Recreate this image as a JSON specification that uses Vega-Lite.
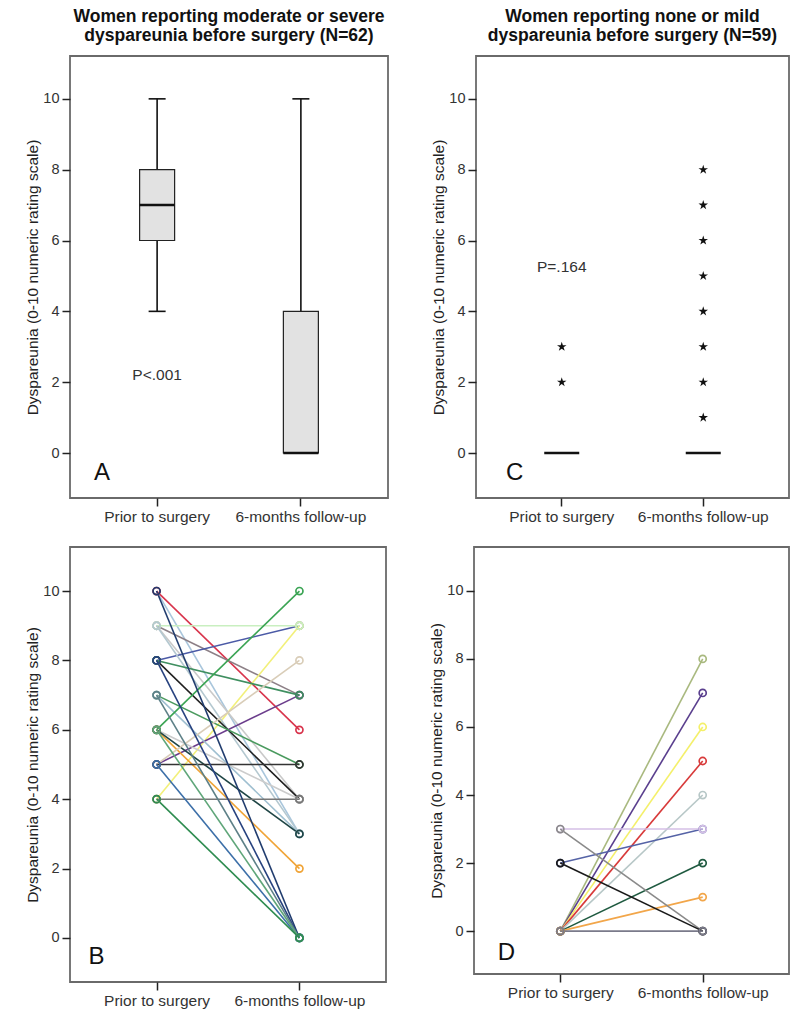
{
  "$schema": "https://vega.github.io/schema/vega-lite/v6.json",
  "padding": {"left": 24, "top": 6, "right": 5, "bottom": 4},
  "background": "white",
  "datasets": {
    "boxA": [
      {"time": "Prior to surgery", "min": 4, "q1": 6, "median": 7, "q3": 8, "max": 10},
      {"time": "6-months follow-up", "min": 0, "q1": 0, "median": 0, "q3": 4, "max": 10}
    ],
    "boxC": [
      {"time": "Priot to surgery", "median": 0},
      {"time": "6-months follow-up", "median": 0}
    ],
    "starsC": [
      {"time": "Priot to surgery", "v": 2},
      {"time": "Priot to surgery", "v": 3},
      {"time": "6-months follow-up", "v": 1},
      {"time": "6-months follow-up", "v": 2},
      {"time": "6-months follow-up", "v": 3},
      {"time": "6-months follow-up", "v": 4},
      {"time": "6-months follow-up", "v": 5},
      {"time": "6-months follow-up", "v": 6},
      {"time": "6-months follow-up", "v": 7},
      {"time": "6-months follow-up", "v": 8}
    ],
    "linesB": [
      {"id": "p01", "time": "Prior to surgery", "v": 10}, {"id": "p01", "time": "6-months follow-up", "v": 3},
      {"id": "p02", "time": "Prior to surgery", "v": 10}, {"id": "p02", "time": "6-months follow-up", "v": 6},
      {"id": "p03", "time": "Prior to surgery", "v": 9}, {"id": "p03", "time": "6-months follow-up", "v": 7},
      {"id": "p04", "time": "Prior to surgery", "v": 9}, {"id": "p04", "time": "6-months follow-up", "v": 4},
      {"id": "p05", "time": "Prior to surgery", "v": 8}, {"id": "p05", "time": "6-months follow-up", "v": 9},
      {"id": "p06", "time": "Prior to surgery", "v": 4}, {"id": "p06", "time": "6-months follow-up", "v": 9},
      {"id": "p07", "time": "Prior to surgery", "v": 9}, {"id": "p07", "time": "6-months follow-up", "v": 9},
      {"id": "p08", "time": "Prior to surgery", "v": 9}, {"id": "p08", "time": "6-months follow-up", "v": 3},
      {"id": "p09", "time": "Prior to surgery", "v": 8}, {"id": "p09", "time": "6-months follow-up", "v": 4},
      {"id": "p10", "time": "Prior to surgery", "v": 5}, {"id": "p10", "time": "6-months follow-up", "v": 7},
      {"id": "p11", "time": "Prior to surgery", "v": 8}, {"id": "p11", "time": "6-months follow-up", "v": 7},
      {"id": "p12", "time": "Prior to surgery", "v": 7}, {"id": "p12", "time": "6-months follow-up", "v": 5},
      {"id": "p13", "time": "Prior to surgery", "v": 7}, {"id": "p13", "time": "6-months follow-up", "v": 3},
      {"id": "p14", "time": "Prior to surgery", "v": 6}, {"id": "p14", "time": "6-months follow-up", "v": 10},
      {"id": "p15", "time": "Prior to surgery", "v": 6}, {"id": "p15", "time": "6-months follow-up", "v": 4},
      {"id": "p16", "time": "Prior to surgery", "v": 6}, {"id": "p16", "time": "6-months follow-up", "v": 2},
      {"id": "p17", "time": "Prior to surgery", "v": 6}, {"id": "p17", "time": "6-months follow-up", "v": 3},
      {"id": "p18", "time": "Prior to surgery", "v": 5}, {"id": "p18", "time": "6-months follow-up", "v": 8},
      {"id": "p19", "time": "Prior to surgery", "v": 5}, {"id": "p19", "time": "6-months follow-up", "v": 5},
      {"id": "p20", "time": "Prior to surgery", "v": 4}, {"id": "p20", "time": "6-months follow-up", "v": 4},
      {"id": "p21", "time": "Prior to surgery", "v": 10}, {"id": "p21", "time": "6-months follow-up", "v": 0},
      {"id": "p22", "time": "Prior to surgery", "v": 8}, {"id": "p22", "time": "6-months follow-up", "v": 0},
      {"id": "p23", "time": "Prior to surgery", "v": 7}, {"id": "p23", "time": "6-months follow-up", "v": 0},
      {"id": "p24", "time": "Prior to surgery", "v": 5}, {"id": "p24", "time": "6-months follow-up", "v": 0},
      {"id": "p25", "time": "Prior to surgery", "v": 6}, {"id": "p25", "time": "6-months follow-up", "v": 0},
      {"id": "p26", "time": "Prior to surgery", "v": 4}, {"id": "p26", "time": "6-months follow-up", "v": 0}
    ],
    "linesD": [
      {"id": "d01", "time": "Prior to surgery", "v": 0}, {"id": "d01", "time": "6-months follow-up", "v": 8},
      {"id": "d02", "time": "Prior to surgery", "v": 0}, {"id": "d02", "time": "6-months follow-up", "v": 7},
      {"id": "d03", "time": "Prior to surgery", "v": 0}, {"id": "d03", "time": "6-months follow-up", "v": 6},
      {"id": "d04", "time": "Prior to surgery", "v": 0}, {"id": "d04", "time": "6-months follow-up", "v": 5},
      {"id": "d05", "time": "Prior to surgery", "v": 0}, {"id": "d05", "time": "6-months follow-up", "v": 4},
      {"id": "d06", "time": "Prior to surgery", "v": 0}, {"id": "d06", "time": "6-months follow-up", "v": 2},
      {"id": "d07", "time": "Prior to surgery", "v": 0}, {"id": "d07", "time": "6-months follow-up", "v": 1},
      {"id": "d08", "time": "Prior to surgery", "v": 2}, {"id": "d08", "time": "6-months follow-up", "v": 3},
      {"id": "d09", "time": "Prior to surgery", "v": 3}, {"id": "d09", "time": "6-months follow-up", "v": 3},
      {"id": "d10", "time": "Prior to surgery", "v": 3}, {"id": "d10", "time": "6-months follow-up", "v": 0},
      {"id": "d11", "time": "Prior to surgery", "v": 2}, {"id": "d11", "time": "6-months follow-up", "v": 0},
      {"id": "d12", "time": "Prior to surgery", "v": 0}, {"id": "d12", "time": "6-months follow-up", "v": 0}
    ]
  },
  "spacing": 20,
  "vconcat": [
    {
      "spacing": 41,
      "hconcat": [
        {
          "title": {"text": ["Women reporting moderate or severe", "dyspareunia before surgery (N=62)"]},
          "width": 318,
          "height": 442,
          "data": {"name": "boxA"},
          "encoding": {
            "x": {"field": "time", "type": "nominal", "scale": {"type": "band", "domain": ["Prior to surgery", "6-months follow-up"], "paddingInner": 0, "paddingOuter": 0.106}, "axis": {"title": null, "labelAngle": 0, "labelOverlap": false}}
          },
          "layer": [
            {"mark": {"type": "rule", "color": "#111", "strokeWidth": 1.6},
             "encoding": {"y": {"field": "min", "type": "quantitative", "title": "Dyspareunia (0-10 numeric rating scale)", "scale": {"domain": [-1.27, 11.21], "nice": false, "zero": false}, "axis": {"values": [0, 2, 4, 6, 8, 10]}}, "y2": {"field": "q1"}}},
            {"mark": {"type": "rule", "color": "#111", "strokeWidth": 1.6},
             "encoding": {"y": {"field": "q3", "type": "quantitative", "title": "Dyspareunia (0-10 numeric rating scale)"}, "y2": {"field": "max"}}},
            {"mark": {"type": "bar", "size": 35, "fill": "#e2e2e2", "stroke": "#222", "strokeWidth": 1.2, "opacity": 1},
             "encoding": {"y": {"field": "q1", "type": "quantitative", "title": "Dyspareunia (0-10 numeric rating scale)"}, "y2": {"field": "q3"}}},
            {"mark": {"type": "tick", "size": 17, "thickness": 1.6, "color": "#111", "opacity": 1},
             "encoding": {"y": {"field": "min", "type": "quantitative", "title": "Dyspareunia (0-10 numeric rating scale)"}}},
            {"mark": {"type": "tick", "size": 17, "thickness": 1.6, "color": "#111", "opacity": 1},
             "encoding": {"y": {"field": "max", "type": "quantitative", "title": "Dyspareunia (0-10 numeric rating scale)"}}},
            {"mark": {"type": "tick", "size": 35, "thickness": 2.5, "color": "#111", "opacity": 1},
             "encoding": {"y": {"field": "median", "type": "quantitative", "title": "Dyspareunia (0-10 numeric rating scale)"}}},
            {"data": {"values": [{"time": "Prior to surgery", "y": 2.2, "label": "P<.001"}]},
             "mark": {"type": "text", "fontSize": 15.5, "color": "#333"},
             "encoding": {"y": {"field": "y", "type": "quantitative", "title": "Dyspareunia (0-10 numeric rating scale)"}, "text": {"field": "label"}}},
            {"data": {"values": [{"time": "Prior to surgery", "y": -0.55, "label": "A"}]},
             "mark": {"type": "text", "fontSize": 24, "color": "#111", "dx": -55},
             "encoding": {"y": {"field": "y", "type": "quantitative", "title": "Dyspareunia (0-10 numeric rating scale)"}, "text": {"field": "label"}}}
          ]
        },
        {
          "title": {"text": ["Women reporting none or mild", "dyspareunia before surgery (N=59)"]},
          "width": 313,
          "height": 442,
          "data": {"name": "boxC"},
          "encoding": {
            "x": {"field": "time", "type": "nominal", "scale": {"type": "band", "domain": ["Priot to surgery", "6-months follow-up"], "paddingInner": 0, "paddingOuter": 0.106}, "axis": {"title": null, "labelAngle": 0, "labelOverlap": false}}
          },
          "layer": [
            {"mark": {"type": "tick", "size": 35, "thickness": 2.5, "color": "#111", "opacity": 1},
             "encoding": {"y": {"field": "median", "type": "quantitative", "title": "Dyspareunia (0-10 numeric rating scale)", "scale": {"domain": [-1.27, 11.21], "nice": false, "zero": false}, "axis": {"values": [0, 2, 4, 6, 8, 10]}}}},
            {"data": {"name": "starsC"},
             "mark": {"type": "point", "shape": "M0,-1L0.2245,-0.309L0.951,-0.309L0.363,0.118L0.588,0.809L0,0.382L-0.588,0.809L-0.363,0.118L-0.951,-0.309L-0.2245,-0.309Z", "size": 100, "filled": true, "color": "#111", "opacity": 1},
             "encoding": {"y": {"field": "v", "type": "quantitative", "title": "Dyspareunia (0-10 numeric rating scale)"}}},
            {"data": {"values": [{"time": "Priot to surgery", "y": 5.25, "label": "P=.164"}]},
             "mark": {"type": "text", "fontSize": 15.5, "color": "#333"},
             "encoding": {"y": {"field": "y", "type": "quantitative", "title": "Dyspareunia (0-10 numeric rating scale)"}, "text": {"field": "label"}}},
            {"data": {"values": [{"time": "Priot to surgery", "y": -0.55, "label": "C"}]},
             "mark": {"type": "text", "fontSize": 24, "color": "#111", "dx": -47},
             "encoding": {"y": {"field": "y", "type": "quantitative", "title": "Dyspareunia (0-10 numeric rating scale)"}, "text": {"field": "label"}}}
          ]
        }
      ]
    },
    {
      "spacing": 41,
      "resolve": {"scale": {"color": "independent"}},
      "hconcat": [
        {
          "width": 316,
          "height": 435,
          "data": {"name": "linesB"},
          "encoding": {
            "x": {"field": "time", "type": "nominal", "scale": {"type": "point", "domain": ["Prior to surgery", "6-months follow-up"], "padding": 0.606}, "axis": {"title": null, "labelAngle": 0, "labelOverlap": false}},
            "y": {"field": "v", "type": "quantitative", "title": "Dyspareunia (0-10 numeric rating scale)", "scale": {"domain": [-1.27, 11.27], "nice": false, "zero": false}, "axis": {"values": [0, 2, 4, 6, 8, 10]}},
            "color": {"field": "id", "type": "nominal", "legend": null, "scale": {
              "domain": ["p01","p02","p03","p04","p05","p06","p07","p08","p09","p10","p11","p12","p13","p14","p15","p16","p17","p18","p19","p20","p21","p22","p23","p24","p25","p26"],
              "range": ["#a9c6dc","#d8344c","#8c7f86","#c9c9c9","#4b5aa6","#f2f07a","#c9efc0","#b4c8d0","#1f1f1f","#6b3d8c","#3f8f60","#4a9a5e","#9fbfd0","#3ba454","#cccccc","#f0a437","#1f4545","#d9cdb8","#333333","#777777","#203c6e","#27427f","#5d8087","#3c6fa8","#5fa679","#2e8c50"]}}
          },
          "layer": [
            {"mark": {"type": "line", "strokeWidth": 1.6}, "encoding": {"detail": {"field": "id"}}},
            {"mark": {"type": "point", "filled": false, "size": 50, "strokeWidth": 1.7, "opacity": 1}},
            {"data": {"values": [{"time": "Prior to surgery", "v": -0.55, "label": "B"}]},
             "mark": {"type": "text", "fontSize": 24, "color": "#111", "dx": -60},
             "encoding": {"text": {"field": "label"}, "color": {"value": "#111"}}}
          ]
        },
        {
          "width": 315,
          "height": 427,
          "data": {"name": "linesD"},
          "encoding": {
            "x": {"field": "time", "type": "nominal", "scale": {"type": "point", "domain": ["Prior to surgery", "6-months follow-up"], "padding": 0.606}, "axis": {"title": null, "labelAngle": 0, "labelOverlap": false}},
            "y": {"field": "v", "type": "quantitative", "title": "Dyspareunia (0-10 numeric rating scale)", "scale": {"domain": [-1.26, 11.29], "nice": false, "zero": false}, "axis": {"values": [0, 2, 4, 6, 8, 10]}},
            "color": {"field": "id", "type": "nominal", "legend": null, "scale": {
              "domain": ["d01","d02","d03","d04","d05","d06","d07","d08","d09","d10","d11","d12"],
              "range": ["#a9b97f","#5a3f8e","#f4f06a","#d83a3a","#b7c7c7","#1f5a40","#f2a64a","#5563a6","#d5bfe6","#8a8a8a","#1a1a1a","#7a7a8a"]}}
          },
          "layer": [
            {"mark": {"type": "line", "strokeWidth": 1.6}, "encoding": {"detail": {"field": "id"}}},
            {"mark": {"type": "point", "filled": false, "size": 50, "strokeWidth": 1.7, "opacity": 1}},
            {"data": {"values": [{"time": "Prior to surgery", "v": -0.65, "label": "D"}]},
             "mark": {"type": "text", "fontSize": 24, "color": "#111", "dx": -54},
             "encoding": {"text": {"field": "label"}, "color": {"value": "#111"}}}
          ]
        }
      ]
    }
  ],
  "config": {
    "font": "Liberation Sans",
    "view": {"stroke": "#6a6a6a", "strokeWidth": 1.8},
    "axis": {"domain": false, "grid": false, "tickColor": "#222", "tickSize": 8, "tickWidth": 1.5, "labelColor": "#333", "titleColor": "#222", "titleFontWeight": "normal", "titleFontSize": 15.5, "labelPadding": 3, "titlePadding": 2},
    "axisX": {"labelFontSize": 15.5},
    "axisY": {"labelFontSize": 14.5},
    "title": {"fontSize": 17.5, "fontWeight": "bold", "color": "#111", "anchor": "middle", "offset": 12, "lineHeight": 19}
  }
}
